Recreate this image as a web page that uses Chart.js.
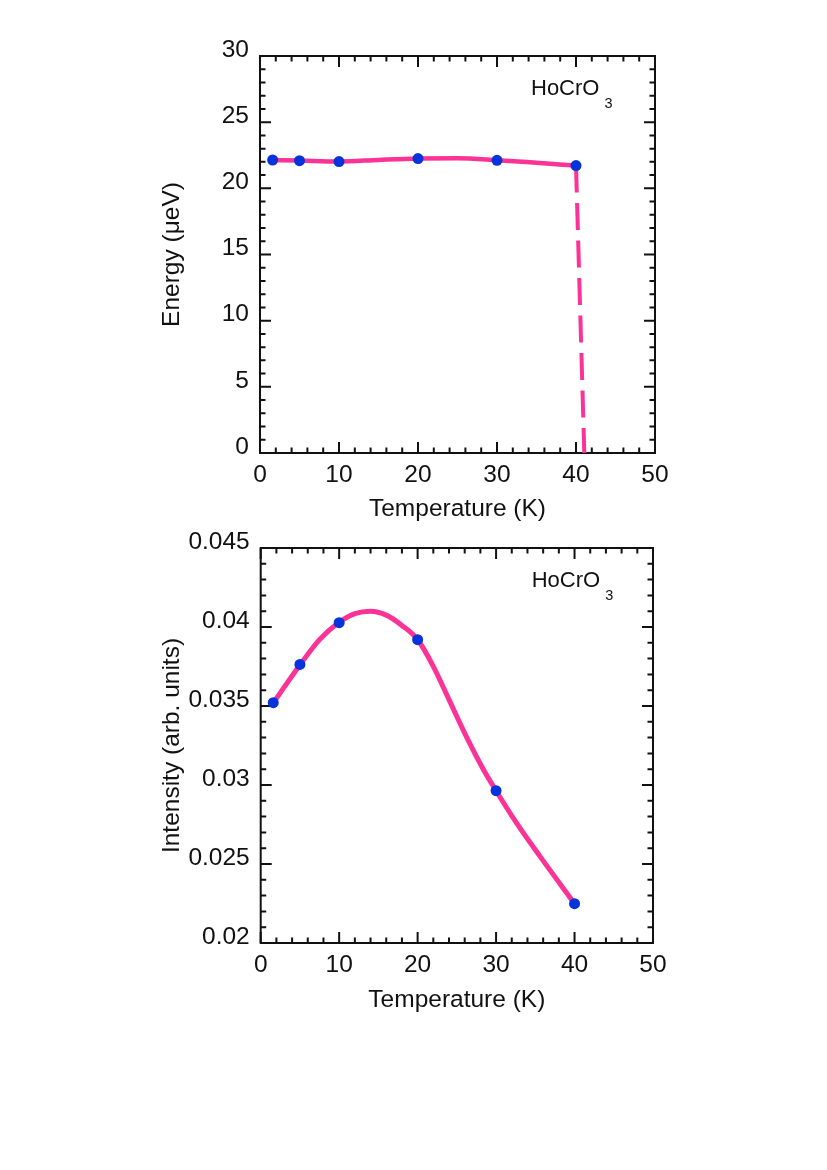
<!DOCTYPE html>
<html>
<head>
<meta charset="utf-8">
<script src="https://cdn.jsdelivr.net/npm/chart.js@4/dist/chart.umd.min.js"></script>
<style>
  html, body { margin: 0; padding: 0; background: #fff; width: 827px; height: 1170px; overflow: hidden; }
  canvas { position: absolute; left: 0; }
</style>
</head>
<body>
<canvas id="c1" width="827" height="530" style="top:0px"></canvas>
<canvas id="c2" width="827" height="530" style="top:500px"></canvas>
<script>
// ---------- data ----------
const temperatures = [1.6, 5, 10, 20, 30, 40];
const energyValues = [22.14, 22.09, 22.02, 22.25, 22.12, 21.72];
const intensityValues = [0.03521, 0.03763, 0.04027, 0.0392, 0.02964, 0.02249];

// fitted curves
const energyFitT = [1.6, 5, 10, 15, 20, 25, 30, 35, 40];
const energyFitE = [22.14, 22.1, 22.03, 22.15, 22.25, 22.28, 22.13, 21.93, 21.72];
const energyDropT = [40, 41.05];
const energyDropE = [21.72, 0];

const intensityFitT = [1.6, 5, 7.5, 10, 12, 14, 16, 18, 20, 22, 24, 26.2, 28.4, 30, 32.6, 35.6, 40];
const intensityFitI = [0.0352, 0.0376, 0.0392, 0.0403, 0.04085, 0.0410, 0.04075, 0.0401, 0.0392, 0.03751, 0.0354, 0.03308, 0.03097, 0.02964, 0.0276, 0.02548, 0.02249];

// axis tick labels
const tempTickLabels = [0, 10, 20, 30, 40, 50];
const energyTickLabels = [0, 5, 10, 15, 20, 25, 30];
const intensityTickLabels = ['0.02', '0.025', '0.03', '0.035', '0.04', '0.045'];

const PINK = '#fb3396';
const BLUE = '#0733dc';
const FONT = "'Liberation Sans', Arial, sans-serif";
const FS = 24.5;

function pts(xs, ys) { return xs.map((x, i) => ({ x: x, y: ys[i] })); }

// inward ticks on all four sides + frame
const framePlugin = {
  id: 'frameTicks',
  beforeDatasetsDraw(chart, args, opts) {
    const ctx = chart.ctx, a = chart.chartArea;
    const xs = chart.scales.x, ys = chart.scales.y;
    ctx.save();
    ctx.strokeStyle = '#111';
    ctx.lineWidth = 2;
    ctx.lineCap = 'butt';
    const eps = 1e-9;
    for (let v = xs.min; v <= xs.max + eps; v += opts.xMinor) {
      const isMajor = Math.abs(v / opts.xMajor - Math.round(v / opts.xMajor)) < 1e-6;
      const len = isMajor ? 11 : 5.5;
      const p = xs.getPixelForValue(v);
      ctx.beginPath();
      ctx.moveTo(p, a.bottom); ctx.lineTo(p, a.bottom - len);
      ctx.moveTo(p, a.top); ctx.lineTo(p, a.top + len);
      ctx.stroke();
    }
    const nY = Math.round((ys.max - ys.min) / opts.yMinor);
    for (let i = 0; i <= nY; i++) {
      const v = ys.min + i * opts.yMinor;
      const isMajor = (i % opts.yMajorEvery) === 0;
      const len = isMajor ? 11 : 5.5;
      const p = ys.getPixelForValue(v);
      ctx.beginPath();
      ctx.moveTo(a.left, p); ctx.lineTo(a.left + len, p);
      ctx.moveTo(a.right, p); ctx.lineTo(a.right - len, p);
      ctx.stroke();
    }
    ctx.strokeRect(a.left, a.top, a.right - a.left, a.bottom - a.top);
    ctx.restore();
  },
  afterDraw(chart, args, opts) {
    const ctx = chart.ctx, a = chart.chartArea;
    ctx.save();
    ctx.fillStyle = '#111';
    ctx.textBaseline = 'alphabetic';
    ctx.textAlign = 'left';
    ctx.font = '22px ' + FONT;
    ctx.fillText('HoCrO', a.left + 271, a.top + 39);
    const w = ctx.measureText('HoCrO').width;
    ctx.font = '14.5px ' + FONT;
    ctx.fillText('3', a.left + 271 + w + 5, a.top + 52);
    ctx.restore();
  }
};

function makeChart(id, cfg) {
  return new Chart(document.getElementById(id), {
    type: 'scatter',
    data: { datasets: cfg.datasets },
    options: {
      responsive: false,
      animation: false,
      layout: { padding: cfg.padding },
      plugins: {
        legend: { display: false },
        tooltip: { enabled: false },
        frameTicks: cfg.ticks
      },
      scales: {
        x: {
          type: 'linear',
          min: 0, max: 50,
          afterBuildTicks: s => { s.ticks = tempTickLabels.map(v => ({ value: v })); },
          afterFit: s => { s.height = cfg.xHeight; },
          grid: { display: false, drawTicks: false },
          border: { display: false },
          ticks: { color: '#111', font: { family: FONT, size: FS }, padding: 8, maxRotation: 0 },
          title: { display: true, text: 'Temperature (K)', color: '#111', font: { family: FONT, size: FS }, padding: { top: 4, bottom: 3 } }
        },
        y: {
          type: 'linear',
          min: cfg.yMin, max: cfg.yMax,
          afterBuildTicks: s => { s.ticks = cfg.yTicks.map(v => ({ value: Number(v) })); },
          afterFit: s => { s.width = cfg.yWidth; },
          grid: { display: false, drawTicks: false },
          border: { display: false },
          ticks: {
            color: '#111', font: { family: FONT, size: FS }, padding: 11, labelOffset: -6,
            callback: cfg.yFormat
          },
          title: { display: true, text: cfg.yTitle, color: '#111', font: { family: FONT, size: FS }, padding: { top: 3, bottom: 4 } }
        }
      }
    },
    plugins: [framePlugin]
  });
}

makeChart('c1', {
  padding: { left: 155, right: 172, top: 56, bottom: 3 },
  xHeight: 74, yWidth: 105,
  yMin: 0, yMax: 30, yTicks: energyTickLabels,
  yFormat: v => String(v),
  yTitle: 'Energy (\u03bceV)',
  ticks: { xMinor: 2, xMajor: 10, yMinor: 1, yMajorEvery: 5 },
  datasets: [
    { data: pts(energyFitT, energyFitE), showLine: true, borderColor: PINK, borderWidth: 4.5, pointRadius: 0, tension: 0.3, cubicInterpolationMode: 'monotone', clip: false, order: 3 },
    { data: pts(energyDropT, energyDropE), showLine: true, borderColor: PINK, borderWidth: 4, borderDash: [27, 10.5], pointRadius: 0, clip: false, order: 2 },
    { data: pts(temperatures, energyValues), showLine: false, pointRadius: 5.5, pointBackgroundColor: BLUE, pointBorderColor: BLUE, pointBorderWidth: 0, order: 1 }
  ]
});

makeChart('c2', {
  padding: { left: 155, right: 174, top: 48, bottom: 12 },
  xHeight: 75, yWidth: 105.7,
  yMin: 0.02, yMax: 0.045, yTicks: intensityTickLabels,
  yFormat: v => String(Number(v.toFixed(3))),
  yTitle: 'Intensity (arb. units)',
  ticks: { xMinor: 2, xMajor: 10, yMinor: 0.001, yMajorEvery: 5 },
  datasets: [
    { data: pts(intensityFitT, intensityFitI), showLine: true, borderColor: PINK, borderWidth: 5, pointRadius: 0, cubicInterpolationMode: 'monotone', clip: false, order: 2 },
    { data: pts(temperatures, intensityValues), showLine: false, pointRadius: 5.5, pointBackgroundColor: BLUE, pointBorderColor: BLUE, pointBorderWidth: 0, order: 1 }
  ]
});
</script>
</body>
</html>
